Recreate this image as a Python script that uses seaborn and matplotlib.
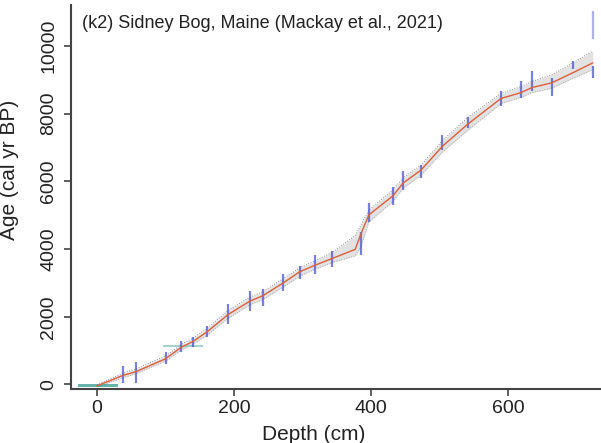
import numpy as np
import pandas as pd
import matplotlib
matplotlib.use("Agg")
import matplotlib.pyplot as plt
import seaborn as sns

# Age-depth model (median and envelope)
model_depth = [0, 38, 57, 100, 123, 140, 161, 191, 223, 242, 272, 296, 318, 343,
               377, 385, 397, 432, 447, 473, 505, 542, 590, 619, 635, 664, 695, 724]
model_median = [-40, 270, 380, 760, 1100, 1270, 1560, 2060, 2460, 2620, 3000, 3330, 3520, 3720,
                3990, 4430, 5010, 5570, 5950, 6330, 7050, 7700, 8450, 8620, 8770, 8910, 9210, 9500]
model_lo = [-70, 200, 320, 690, 1020, 1190, 1460, 1950, 2350, 2510, 2880, 3200, 3400, 3600,
            3800, 4050, 4800, 5400, 5800, 6180, 6880, 7520, 8300, 8480, 8620, 8750, 9050, 9300]
model_hi = [-10, 340, 460, 840, 1180, 1370, 1660, 2180, 2580, 2740, 3130, 3450, 3650, 3900,
            4400, 4700, 5150, 5750, 6100, 6480, 7220, 7900, 8600, 8800, 8950, 9150, 9500, 9850]

# Radiocarbon dates (calibrated ranges)
date_depth = [38, 57, 101, 123, 140, 161, 191, 223, 242, 272, 296, 318, 343, 385,
              397, 432, 447, 473, 504, 542, 590, 619, 635, 664, 695, 724, 724]
date_lo = [30, 30, 615, 970, 1110, 1410, 1790, 2170, 2320, 2760, 3110, 3255, 3460, 3840,
           4810, 5310, 5750, 6100, 6920, 7570, 8240, 8450, 8680, 8530, 9330, 9060, 10200]
date_hi = [560, 675, 970, 1290, 1410, 1730, 2375, 2760, 2815, 3255, 3490, 3840, 3930, 4490,
           5370, 5840, 6300, 6480, 7360, 7890, 8680, 8970, 9270, 9060, 9560, 9410, 11030]

# Other age markers (depth-range markers)
marker_age = [-40, 1130]
marker_depth_lo = [-28, 96]
marker_depth_hi = [30, 155]

sns.set_style("ticks")
plt.rcParams["font.family"] = ["Liberation Sans", "DejaVu Sans"]

fig = plt.figure(figsize=(6.01, 4.43), dpi=100)
ax = fig.add_axes([71 / 601, 1 - 389 / 443, 1 - 71 / 601, (389 - 5) / 443])

df = pd.DataFrame({"depth": model_depth, "median": model_median,
                   "lo": model_lo, "hi": model_hi})

ax.fill_between(df["depth"], df["lo"], df["hi"], color="#d6d6d6", alpha=0.7, lw=0, zorder=1)
ax.plot(df["depth"], df["lo"], ls=(0, (1, 2)), color="#9a9a9a", lw=0.6, zorder=2)
ax.plot(df["depth"], df["hi"], ls=(0, (1, 2)), color="#6a6a6a", lw=0.6, zorder=2)

# markers (teal)
for a, d0, d1, col, h in zip(marker_age, marker_depth_lo, marker_depth_hi,
                              ["#3f9f95", "#8cc9c1"], [45, 35]):
    ax.fill_between([d0, d1], [a - h, a - h], [a + h, a + h], color=col, alpha=0.8,
                    lw=0, zorder=3)

# dates (blue)
dates = pd.DataFrame({"depth": date_depth, "lo": date_lo, "hi": date_hi})
for i, r in dates.iterrows():
    alpha = 0.45 if (r["hi"] - r["lo"]) > 700 else 0.75
    ax.vlines(r["depth"], r["lo"], r["hi"], color="#4a55d0", lw=1.6, alpha=alpha, zorder=4)

sns.lineplot(data=df, x="depth", y="median", ax=ax, color="#dc5f3c", lw=1.0,
             zorder=5, sort=False)

ax.set_xlim(-38, 736)
ax.set_ylim(-133, 11210)
ax.set_xticks([0, 200, 400, 600])
ax.set_yticks([0, 2000, 4000, 6000, 8000, 10000])
ax.tick_params(axis="both", labelsize=14, length=5, width=1.2, color="#444444",
               labelcolor="#222222")
ax.tick_params(axis="x", pad=3)
ax.tick_params(axis="y", pad=5)
for lab in ax.get_yticklabels():
    lab.set_rotation(90)
    lab.set_va("center")
for s in ["top", "right"]:
    ax.spines[s].set_visible(False)
for s in ["left", "bottom"]:
    ax.spines[s].set_color("#444444")
    ax.spines[s].set_linewidth(1.5)

ax.set_xlabel("Depth (cm)", fontsize=15, color="#222222", labelpad=-1)
ax.xaxis.set_label_coords(0.458, -0.095)
ax.set_ylabel("Age (cal yr BP)", fontsize=15, color="#222222")
ax.yaxis.set_label_coords(-0.098, 0.57)
ax.text(0.02, 0.975, "(k2) Sidney Bog, Maine (Mackay et al., 2021)", transform=ax.transAxes,
        fontsize=13, color="#222222", va="top", ha="left")

fig.savefig("out.png", dpi=100)
